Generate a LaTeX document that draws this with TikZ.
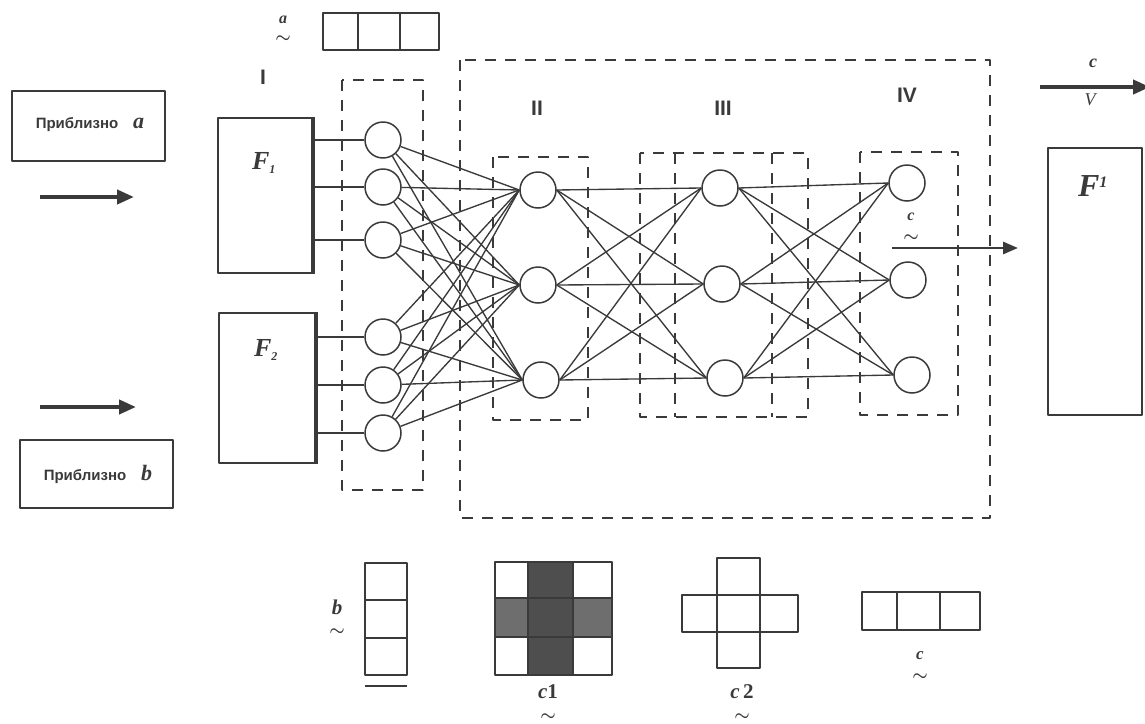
\documentclass[tikz,border=0pt]{standalone}
\usepackage{amsmath}
\usepackage{fontspec}
\setmainfont{Liberation Serif}
\newfontfamily\labsans{Liberation Sans}
\usetikzlibrary{arrows.meta}
\definecolor{inkc}{HTML}{3A3A3A}
\definecolor{darkfill}{HTML}{4E4E4E}
\definecolor{midfill}{HTML}{6E6E6E}

\begin{document}
\begin{tikzpicture}[x=1pt, y=-1pt, line join=round, text=inkc,
  neuron/.style={circle, draw=inkc, line width=1.5pt, minimum size=36pt, inner sep=0pt, fill=white},
  block/.style={draw=inkc, line width=1.9pt, inner sep=0pt},
  group/.style={draw=inkc, line width=1.3pt, dash pattern=on 11pt off 9pt},
  link/.style={draw=inkc, line width=1.35pt},
  cell/.style={draw=inkc, line width=1.3pt},
  bigarrow/.style={draw=inkc, line width=4pt, -{Triangle[length=17pt,width=14pt]}},
  outarrow/.style={draw=inkc, line width=2.8pt, -{Triangle[length=15pt,width=12pt]}},
  roman/.style={font=\labsans\bfseries\fontsize{21}{21}\selectfont, inner sep=0pt},
  vecl/.style={font=\bfseries\itshape\fontsize{21}{21}\selectfont, inner sep=0pt},
  tildemark/.style={font=\fontsize{17}{17}\selectfont, inner sep=0pt},
  flabel/.style={font=\bfseries\itshape\fontsize{26}{26}\selectfont, inner sep=0pt}
]
\useasboundingbox[fill=white] (0,0) rectangle (1145,723);

% ---- input boxes and arrows ----
\node[block, minimum width=153pt, minimum height=70pt] (apxA) at (88.5,126) {};
\node[inner sep=0pt] (apxAt) at (90,125) {\labsans\bfseries\fontsize{15}{15}\selectfont Приблизно\quad{\rmfamily\itshape\fontsize{22}{22}\selectfont a}};
\node[block, minimum width=153pt, minimum height=68pt] (apxB) at (96.5,474) {};
\node[inner sep=0pt] (apxBt) at (98,474) {\labsans\bfseries\fontsize{15}{15}\selectfont Приблизно\quad{\rmfamily\itshape\fontsize{22}{22}\selectfont b}};

\coordinate (inA0) at (40,197);  \coordinate (inA1) at (134,197);
\coordinate (inB0) at (40,407);  \coordinate (inB1) at (136,407);
\draw[bigarrow] (inA0) -- (inA1);
\draw[bigarrow] (inB0) -- (inB1);

% ---- encoder blocks ----
\node[block, minimum width=94pt, minimum height=155pt] (F1) at (265,195.5) {};
\node[flabel] (F1l) at (264,163) {F\textsubscript{\fontsize{12}{12}\selectfont 1}};
\node[block, minimum width=96pt, minimum height=150pt] (F2) at (267,388) {};
\node[flabel] (F2l) at (266,350) {F\textsubscript{\fontsize{12}{12}\selectfont 2}};
\draw[inkc, line width=3.4pt] (F1.north east) -- (F1.south east);
\draw[inkc, line width=3.4pt] (F2.north east) -- (F2.south east);

\node[block, minimum width=94pt, minimum height=267pt] (Fi) at (1095,281.5) {};
\node[flabel, font=\bfseries\itshape\fontsize{32}{32}\selectfont] (Fil) at (1093,186) {F\textsuperscript{\fontsize{16}{16}\selectfont 1}};

% ---- layer labels ----
\node[roman] (LI) at (263,77) {I};
\node[roman] (LII) at (537,108) {II};
\node[roman] (LIII) at (723,108) {III};
\node[roman] (LIV) at (907,95) {IV};

% ---- input vector a ----
\node[vecl, font=\bfseries\itshape\fontsize{16}{16}\selectfont] (av) at (283,20) {a};
\node[tildemark] (avt) at (283,39) {$\boldsymbol{\sim}$};
\draw[cell] (323,13) rectangle (439,50);
\draw[cell] (358,13) -- (358,50) (400,13) -- (400,50);

% ---- dashed groups ----
\draw[group] (342,80) rectangle (423,490);
\draw[group] (460,60) rectangle (990,518);
\draw[group] (493,157) rectangle (588,420);
\draw[group] (640,153) rectangle (808,417);
\draw[group] (675,153) -- (675,417) (772,153) -- (772,417);
\draw[group] (860,152) rectangle (958,415);

% ---- neurons ----
\foreach \i/\y in {1/140,2/187,3/240,4/337,5/385,6/433}
  \node[neuron] (n\i) at (383,\y) {};
\node[neuron] (m1) at (538,190) {};
\node[neuron] (m2) at (538,285) {};
\node[neuron] (m3) at (541,380) {};
\node[neuron] (p1) at (720,188) {};
\node[neuron] (p2) at (722,284) {};
\node[neuron] (p3) at (725,378) {};
\node[neuron] (q1) at (907,183) {};
\node[neuron] (q2) at (908,280) {};
\node[neuron] (q3) at (912,375) {};

% ---- connections ----
\foreach \i in {1,2,3} \draw[link] (F1.east |- n\i) -- (n\i);
\foreach \i in {4,5,6} \draw[link] (F2.east |- n\i) -- (n\i);
\foreach \i in {1,...,6} \foreach \j in {1,2,3} \draw[link] (n\i) -- (m\j.west);
\foreach \i in {1,2,3} \foreach \j in {1,2,3} \draw[link] (m\i.east) -- (p\j.west);
\foreach \i in {1,2,3} \foreach \j in {1,2,3} \draw[link] (p\i.east) -- (q\j.west);

% ---- output ----
\coordinate (outA) at (892,248); \coordinate (outB) at (1018,248);
\draw[outarrow] (outA) -- (outB);
\node[vecl, font=\bfseries\itshape\fontsize{16}{16}\selectfont] (cv) at (911,217) {c};
\node[tildemark] (cvt) at (911,238) {$\boldsymbol{\sim}$};

\coordinate (topA) at (1040,87); \coordinate (topB) at (1150,87);
\draw[bigarrow] (topA) -- (topB);
\node[vecl, font=\bfseries\itshape\fontsize{18}{18}\selectfont] (tc) at (1093,63) {c};
\node[vecl, font=\itshape\fontsize{18}{18}\selectfont] (tv) at (1090,100) {V};

% ---- vector b ----
\node[vecl] (bv) at (337,607) {b};
\node[tildemark] (bvt) at (337,632) {$\boldsymbol{\sim}$};
\draw[cell] (365,563) rectangle (407,675);
\draw[cell] (365,600) -- (407,600) (365,638) -- (407,638);
\draw[cell] (365,686) -- (407,686);

% ---- pattern c1 ----
\fill[darkfill] (528,562) rectangle (573,675);
\fill[midfill] (495,598) rectangle (528,637) (573,598) rectangle (612,637);
\draw[cell] (495,562) rectangle (612,675);
\draw[cell] (528,562) -- (528,675) (573,562) -- (573,675)
           (495,598) -- (612,598) (495,637) -- (612,637);
\node[vecl] (c1l) at (548,692) {c\textup{1}};
\node[tildemark] (c1t) at (548,717) {$\boldsymbol{\sim}$};

% ---- pattern c2 ----
\draw[cell] (717,558) rectangle (760,668);
\draw[cell] (682,595) rectangle (798,632);
\node[vecl] (c2l) at (742,692) {c\,\textup{2}};
\node[tildemark] (c2t) at (742,717) {$\boldsymbol{\sim}$};

% ---- vector c ----
\draw[cell] (862,592) rectangle (980,630);
\draw[cell] (897,592) -- (897,630) (940,592) -- (940,630);
\node[vecl, font=\bfseries\itshape\fontsize{17}{17}\selectfont] (cl) at (920,656) {c};
\node[tildemark] (clt) at (920,677) {$\boldsymbol{\sim}$};
\end{tikzpicture}
\end{document}
